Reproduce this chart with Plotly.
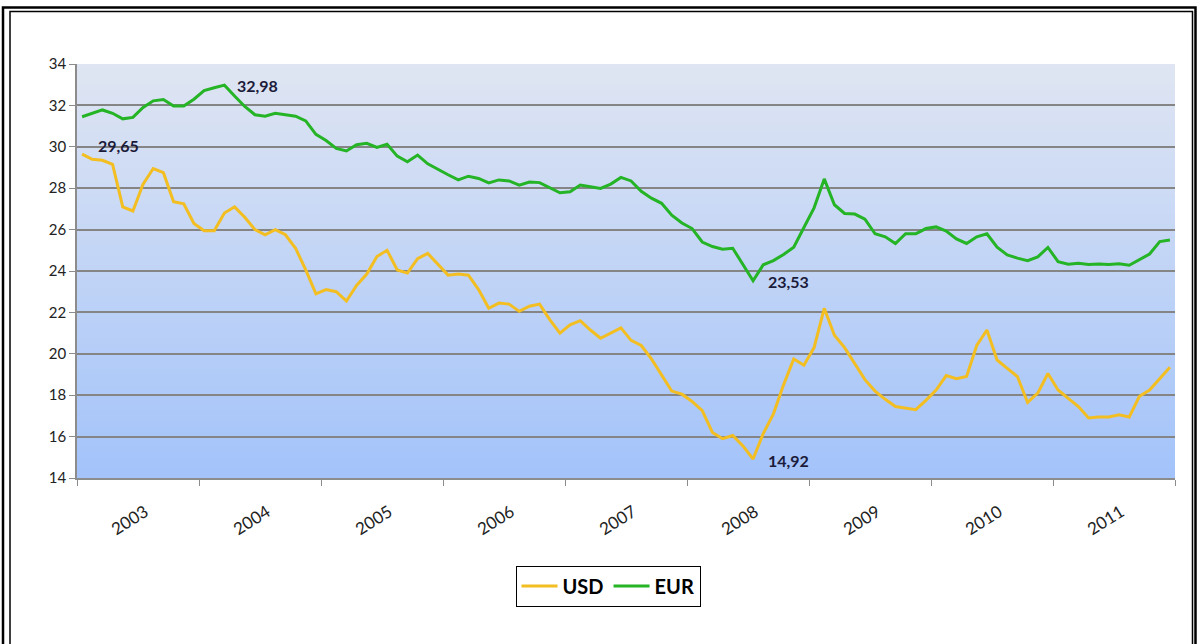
import plotly.graph_objects as go

# ---------------- data ----------------
years = ["2003", "2004", "2005", "2006", "2007", "2008", "2009", "2010", "2011"]

usd = [
    29.65, 29.40, 29.35, 29.15, 27.10, 26.90, 28.20, 28.95, 28.75, 27.35, 27.25, 26.30,
    25.95, 25.95, 26.80, 27.10, 26.60, 26.00, 25.75, 26.00, 25.75, 25.10, 24.05, 22.90,
    23.10, 23.00, 22.55, 23.30, 23.85, 24.70, 25.00, 24.05, 23.90, 24.60, 24.85, 24.35,
    23.80, 23.85, 23.80, 23.10, 22.20, 22.45, 22.40, 22.05, 22.30, 22.40, 21.65, 21.00,
    21.40, 21.60, 21.15, 20.75, 21.00, 21.25, 20.65, 20.40, 19.75, 19.00, 18.20, 18.05,
    17.70, 17.25, 16.20, 15.90, 16.05, 15.55, 14.92, 16.15, 17.10, 18.50, 19.75, 19.45,
    20.30, 22.20, 20.90, 20.30, 19.50, 18.75, 18.20, 17.80, 17.45, 17.38, 17.30, 17.75,
    18.25, 18.95, 18.80, 18.90, 20.40, 21.15, 19.70, 19.30, 18.90, 17.65, 18.10, 19.05,
    18.25, 17.85, 17.45, 16.90, 16.95, 16.95, 17.05, 16.95, 17.95, 18.25, 18.80, 19.35,
]

eur = [
    31.45, 31.60, 31.78, 31.62, 31.35, 31.42, 31.90, 32.22, 32.28, 31.97, 31.97, 32.30,
    32.72, 32.85, 32.98, 32.45, 31.95, 31.55, 31.48, 31.62, 31.55, 31.48, 31.25, 30.60,
    30.30, 29.92, 29.80, 30.10, 30.17, 29.97, 30.12, 29.55, 29.28, 29.60, 29.18, 28.90,
    28.65, 28.40, 28.58, 28.47, 28.26, 28.40, 28.35, 28.15, 28.30, 28.27, 28.02, 27.78,
    27.83, 28.15, 28.07, 27.99, 28.20, 28.52, 28.35, 27.85, 27.52, 27.27, 26.70, 26.32,
    26.05, 25.40, 25.18, 25.05, 25.10, 24.30, 23.53, 24.30, 24.50, 24.80, 25.15, 26.10,
    27.05, 28.45, 27.20, 26.78, 26.75, 26.50, 25.80, 25.65, 25.33, 25.80, 25.80, 26.05,
    26.13, 25.93, 25.55, 25.33, 25.65, 25.80, 25.15, 24.78, 24.62, 24.50, 24.68, 25.14,
    24.45, 24.33, 24.37, 24.32, 24.34, 24.31, 24.35, 24.28, 24.55, 24.82, 25.42, 25.50,
]

series_names = ["USD", "EUR"]
series_colors = ["#F2BE22", "#25B425"]

months_per_year = 12
x = list(range(len(usd)))

# ---------------- figure ----------------
W, H = 1197, 644
ML, MR, MT, MB = 77, 22, 64, 166
PW, PH = W - ML - MR, H - MT - MB


def px_to_paper_x(px):
    return (px - ML) / PW


def px_to_paper_y(py):
    return (H - MB - py) / PH


fig = go.Figure()

for name, vals, col in zip(series_names, [usd, eur], series_colors):
    fig.add_trace(go.Scatter(
        x=x, y=vals, mode="lines", name=name,
        line=dict(color=col, width=3),
        hoverinfo="skip",
    ))

# gradient background bands (below gridlines)
top_c = (0xDF, 0xE5, 0xF2)
bot_c = (0xA3, 0xC3, 0xFA)
nb = 80
shapes = []
for k in range(nb):
    t = k / (nb - 1)
    c = tuple(round(bot_c[i] + (top_c[i] - bot_c[i]) * t) for i in range(3))
    shapes.append(dict(
        type="rect", xref="x domain", yref="y domain",
        x0=0, x1=1, y0=k / nb, y1=min(1, (k + 1) / nb + 0.004),
        fillcolor="rgb(%d,%d,%d)" % c, line=dict(width=0), layer="below",
    ))

# double frame around the picture (open at bottom)
def frame_path(lx, rx, ty, by):
    return "M %f,%f L %f,%f L %f,%f L %f,%f" % (
        px_to_paper_x(lx), px_to_paper_y(by),
        px_to_paper_x(lx), px_to_paper_y(ty),
        px_to_paper_x(rx), px_to_paper_y(ty),
        px_to_paper_x(rx), px_to_paper_y(by),
    )

shapes.append(dict(type="path", xref="paper", yref="paper",
                   path=frame_path(3, 1195.5, 7.5, 660), line=dict(color="black", width=2.5)))
shapes.append(dict(type="path", xref="paper", yref="paper",
                   path=frame_path(10, 1192.5, 11.5, 660), line=dict(color="black", width=1.5)))

# annotations for extremes
def fmt(v):
    return ("%.2f" % v).replace(".", ",")

ann_font = dict(family="Lato", size=16, color="#1B1B3A")
i_usd_max = usd.index(max(usd))
i_usd_min = usd.index(min(usd))
i_eur_max = eur.index(max(eur))
i_eur_min = eur.index(min(eur))
annotations = [
    dict(x=i_eur_max, y=eur[i_eur_max], text="<b>%s</b>" % fmt(eur[i_eur_max]),
         xanchor="left", yanchor="middle", xshift=11, yshift=0, showarrow=False, font=ann_font),
    dict(x=i_usd_max, y=usd[i_usd_max], text="<b>%s</b>" % fmt(usd[i_usd_max]),
         xanchor="left", yanchor="middle", xshift=14, yshift=9, showarrow=False, font=ann_font),
    dict(x=i_eur_min, y=eur[i_eur_min], text="<b>%s</b>" % fmt(eur[i_eur_min]),
         xanchor="left", yanchor="middle", xshift=13, yshift=-1, showarrow=False, font=ann_font),
    dict(x=i_usd_min, y=usd[i_usd_min], text="<b>%s</b>" % fmt(usd[i_usd_min]),
         xanchor="left", yanchor="middle", xshift=13, yshift=-2, showarrow=False, font=ann_font),
]

label_offset = 0.7  # small rightward nudge of the rotated year labels
year_centers = [months_per_year * k + (months_per_year - 1) / 2 + label_offset for k in range(len(years))]
year_bounds = [months_per_year * k - 0.5 for k in range(len(years) + 1)]

fig.update_layout(
    width=W, height=H,
    margin=dict(l=ML, r=MR, t=MT, b=MB, autoexpand=False),
    paper_bgcolor="white", plot_bgcolor="white",
    font=dict(family="Lato", size=14, color="#222222"),
    shapes=shapes,
    annotations=annotations,
    showlegend=True,
    legend=dict(
        orientation="h", x=px_to_paper_x(608), y=px_to_paper_y(586),
        xanchor="center", yanchor="middle",
        bordercolor="black", borderwidth=1, bgcolor="white",
        font=dict(family="Lato", size=20, color="black", weight="bold"),
        itemwidth=36, tracegroupgap=0,
    ),
    xaxis=dict(
        range=[-0.5, len(usd) - 0.5],
        tickmode="array", tickvals=year_centers, ticktext=years,
        tickangle=-32, ticks="", showgrid=False, zeroline=False,
        showline=True, linecolor="#8C8C8C", linewidth=1.5,
        tickfont=dict(family="Lato", size=17, color="#222222"),
        ticklabelstandoff=16,
        minor=dict(tickmode="array", tickvals=year_bounds, ticks="outside",
                   ticklen=6, tickcolor="#8C8C8C", tickwidth=1, showgrid=False),
        fixedrange=True,
    ),
    yaxis=dict(
        range=[14, 34], dtick=2, tick0=14,
        showgrid=True, gridcolor="#858585", gridwidth=1.5,
        zeroline=False, showline=True, linecolor="#8C8C8C", linewidth=1.5,
        ticks="outside", ticklen=6, tickcolor="#8C8C8C",
        tickfont=dict(family="Lato", size=15, color="#222222"),
        fixedrange=True,
    ),
)

fig.write_html(
    "out.html",
    config={"displayModeBar": False},
    post_script="document.body.style.margin='0px';document.body.style.overflow='hidden';",
)
